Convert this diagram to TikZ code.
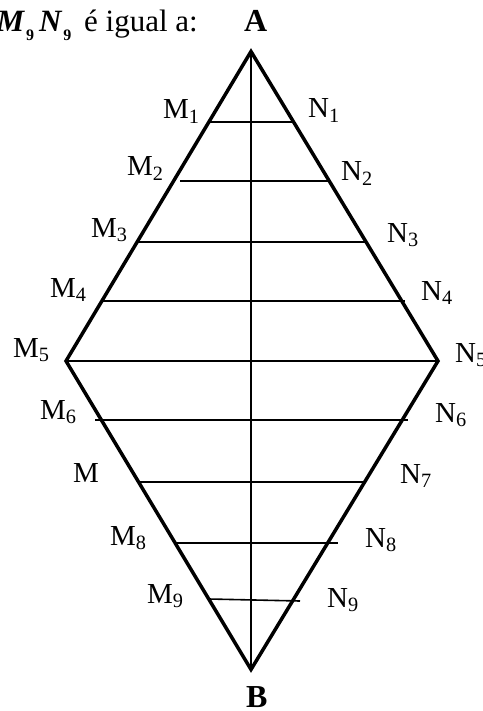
\documentclass[tikz,border=0pt]{standalone}
\usepackage{fontspec}
\setmainfont{Liberation Serif}
\usetikzlibrary{positioning}

% small lowered subscript of the title
\newcommand{\titlesub}[1]{%
  \hspace{1pt}\raisebox{-9pt}{\fontsize{16}{16}\selectfont\bfseries #1}}

\begin{document}
\begin{tikzpicture}[
  x=1pt,
  y=-1pt,
  side/.style={line width=3.5pt, line join=miter},
  rung/.style={line width=1.6pt},
  axis/.style={line width=1.6pt},
  lbl/.style={
    anchor=base west,
    inner sep=0pt,
    font=\fontsize{29}{32}\selectfont
  },
  head/.style={lbl, font=\fontsize{32}{34}\selectfont\bfseries}
]
  \useasboundingbox (0,0) rectangle (482,711);

  % vertices of the rhombus
  \coordinate (A) at (251,51.5);
  \coordinate (B) at (251,669.5);
  \coordinate (M5) at (66,361);
  \coordinate (N5) at (438,361);

  \draw[axis] (A) -- (B);

  % horizontal segments
  \foreach \i/\xl/\yl/\xr/\yr in {
      1/208/122/294/122,
      2/180/181/328/181,
      3/137/242/365/242,
      4/102/301/405/301,
      6/95/420/408/420,
      7/138/482/365/482,
      8/175/543/338/543,
      9/209/599/300/601}{
    \coordinate (M\i) at (\xl,\yl);
    \coordinate (N\i) at (\xr,\yr);
    \draw[rung] (M\i) -- (N\i);
  }
  \draw[rung] (M5) -- (N5);

  \draw[side] (A) -- (N5) -- (B) -- (M5) -- cycle;

  % labels
  \node[lbl, anchor=base east, font=\fontsize{31}{34}\selectfont] (title) at (198,32)
    {\textbf{\textit{M}\titlesub{9}\hspace{5pt}\textit{N}\titlesub{9}}\hspace{5pt} é igual a:};
  \node[head] (labelA) at (244,32) {A};
  \node[head] (labelB) at (246,707) {B};

  \node[lbl] (labelM1) at (163,119) {M\textsubscript{1}};
  \node[lbl] (labelM2) at (127,176) {M\textsubscript{2}};
  \node[lbl] (labelM3) at (91,237) {M\textsubscript{3}};
  \node[lbl] (labelM4) at (50,297) {M\textsubscript{4}};
  \node[lbl] (labelM5) at (13,357) {M\textsubscript{5}};
  \node[lbl] (labelM6) at (40,419) {M\textsubscript{6}};
  \node[lbl] (labelM7) at (73,482) {M};
  \node[lbl] (labelM8) at (110,545) {M\textsubscript{8}};
  \node[lbl] (labelM9) at (147,603) {M\textsubscript{9}};

  \node[lbl] (labelN1) at (308,118) {N\textsubscript{1}};
  \node[lbl] (labelN2) at (341,181) {N\textsubscript{2}};
  \node[lbl] (labelN3) at (387,242) {N\textsubscript{3}};
  \node[lbl] (labelN4) at (421,300) {N\textsubscript{4}};
  \node[lbl] (labelN5) at (455,362) {N\textsubscript{5}};
  \node[lbl] (labelN6) at (435,422) {N\textsubscript{6}};
  \node[lbl] (labelN7) at (400,483) {N\textsubscript{7}};
  \node[lbl] (labelN8) at (365,547) {N\textsubscript{8}};
  \node[lbl] (labelN9) at (327,607) {N\textsubscript{9}};
\end{tikzpicture}
\end{document}
